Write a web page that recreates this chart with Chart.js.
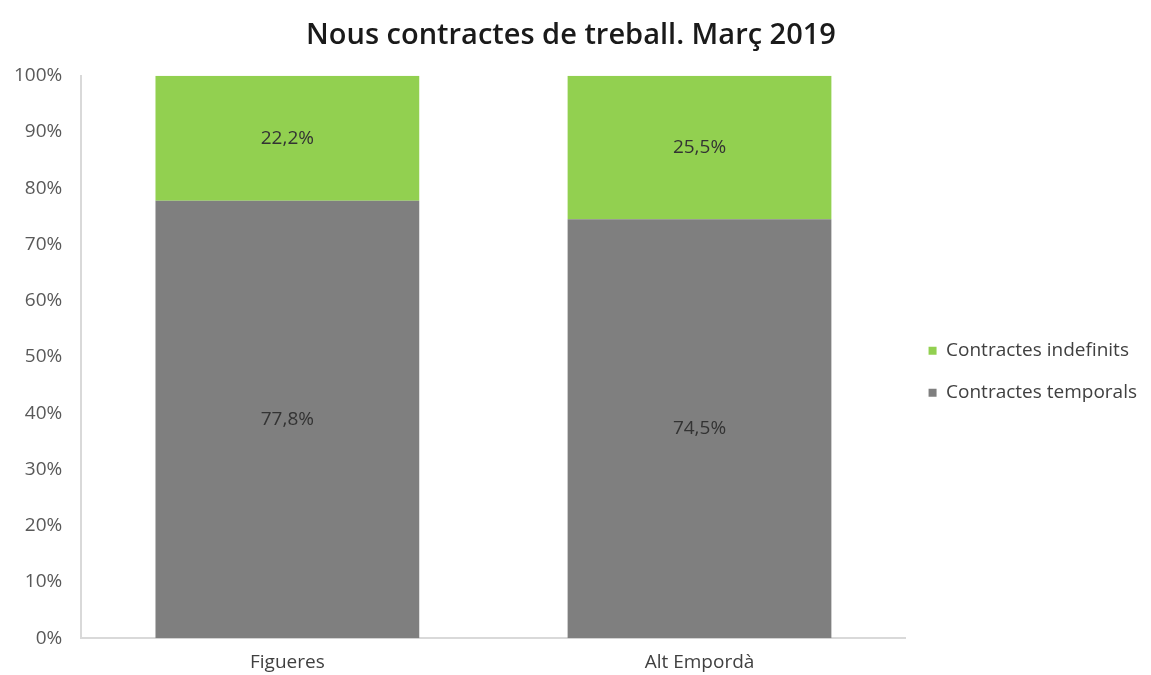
<!DOCTYPE html>
<html lang="ca">
<head>
    <meta charset="UTF-8">
    <title>Nous contractes de treball. Març 2019</title>
    <script src="https://cdn.jsdelivr.net/npm/chart.js@4.4.0/dist/chart.umd.min.js"></script>
    <style>
        html, body { margin: 0; padding: 0; background: #fff; }
        .wrap { width: 1151px; height: 675px; }
    </style>
</head>
<body>
    <div class="wrap"><canvas id="chart" width="1151" height="675"></canvas></div>
    <script>
        const categories = ['Figueres', 'Alt Empordà'];
        const temporals = [77.8, 74.5];
        const indefinits = [22.2, 25.5];
        const yTicks = [0, 10, 20, 30, 40, 50, 60, 70, 80, 90, 100];

        // draw the value in the middle of each segment
        const segmentLabels = {
            id: 'segmentLabels',
            afterDatasetsDraw(chart) {
                const ctx = chart.ctx;
                ctx.save();
                ctx.font = '19px "Open Sans"';
                ctx.fillStyle = '#333333';
                ctx.textAlign = 'center';
                ctx.textBaseline = 'middle';
                chart.data.datasets.forEach((ds, i) => {
                    chart.getDatasetMeta(i).data.forEach((bar, j) => {
                        const mid = (bar.y + bar.base) / 2;
                        ctx.fillText(ds.data[j].toFixed(1).replace('.', ',') + '%', bar.x, mid);
                    });
                });
                ctx.restore();
            }
        };

        new Chart(document.getElementById('chart'), {
            type: 'bar',
            data: {
                labels: categories,
                datasets: [{
                    label: 'Contractes temporals',
                    data: temporals,
                    backgroundColor: '#7f7f7f'
                }, {
                    label: 'Contractes indefinits',
                    data: indefinits,
                    backgroundColor: '#92d050'
                }]
            },
            options: {
                responsive: false,
                animation: false,
                barPercentage: 0.64,
                categoryPercentage: 1,
                layout: { padding: { left: -5, right: 4, top: 8, bottom: 0 } },
                plugins: {
                    title: {
                        display: true,
                        text: 'Nous contractes de treball. Març 2019',
                        color: '#1a1a1a',
                        font: { family: 'Open Sans', size: 29, weight: '600' },
                        padding: { top: 10, bottom: 23 }
                    },
                    legend: {
                        position: 'right',
                        reverse: true,
                        // empty title only pushes the items down a little
                        title: { display: true, text: '', padding: 23 },
                        labels: {
                            boxWidth: 8,
                            boxHeight: 8,
                            padding: 23,
                            color: '#404040',
                            font: { family: 'Open Sans', size: 19 }
                        }
                    },
                    tooltip: { enabled: false }
                },
                scales: {
                    x: {
                        stacked: true,
                        grid: { display: false, tickLength: 12 },
                        border: { color: '#d9d9d9', width: 2 },
                        ticks: { color: '#404040', font: { family: 'Open Sans', size: 19 }, padding: 1 }
                    },
                    y: {
                        stacked: true,
                        min: 0,
                        max: 100,
                        afterBuildTicks(axis) {
                            axis.ticks = yTicks.map(v => ({ value: v }));
                        },
                        grid: { display: false, tickLength: 0 },
                        border: { color: '#d9d9d9', width: 2 },
                        ticks: {
                            color: '#595959',
                            font: { family: 'Open Sans', size: 19 },
                            padding: 19,
                            callback: v => v + '%'
                        }
                    }
                }
            },
            plugins: [segmentLabels]
        });
    </script>
</body>
</html>
